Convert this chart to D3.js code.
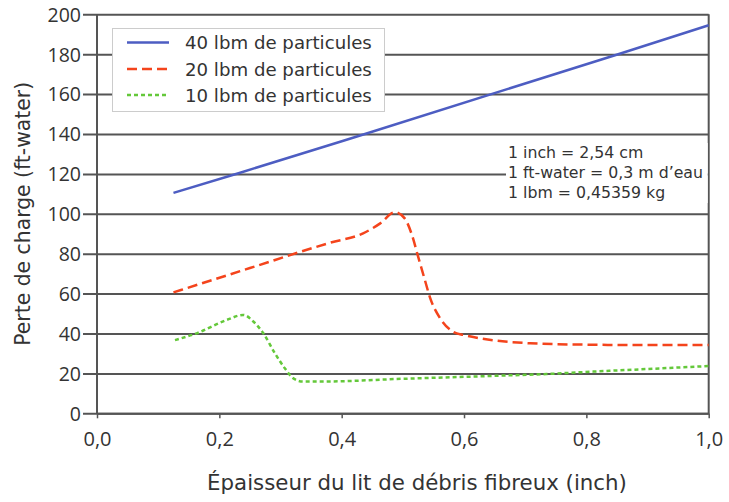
<!DOCTYPE html>
<html><head><meta charset="utf-8">
<script src="https://cdn.jsdelivr.net/npm/d3@7/dist/d3.min.js"></script>
<style>body{margin:0;background:#fff;}svg{display:block;}</style>
</head><body>
<script>
// ---- data ----
const seriesNames = ["40 lbm de particules", "20 lbm de particules", "10 lbm de particules"];
const x40 = [0.125, 0.234, 0.438, 0.852, 1.0];
const y40 = [110.5, 120.6, 140, 180, 194.5];
const x20 = [0.125, 0.25, 0.381, 0.435, 0.463, 0.487, 0.503, 0.514, 0.525, 0.536, 0.544, 0.561, 0.582, 0.6, 0.626, 0.708, 0.8, 0.9, 1.0];
const y20 = [60.6, 72.8, 85.5, 90.2, 95.2, 100.8, 97.7, 90.2, 78.5, 66.8, 58.4, 47.6, 40.9, 39.2, 37.6, 35.1, 34.4, 34.2, 34.2];
const x10 = [0.1275, 0.163, 0.212, 0.239, 0.256, 0.272, 0.291, 0.307, 0.321, 0.337, 0.365, 0.5, 0.642, 0.735, 0.811, 0.9, 1.0];
const y10 = [36.7, 40.1, 46.8, 49.3, 45.9, 40.1, 30, 22.6, 17.5, 15.9, 15.9, 17.3, 18.7, 19.7, 20.9, 22.2, 23.7];
const xTicks = [0, 0.2, 0.4, 0.6, 0.8, 1.0];
const xTickLabels = ["0,0", "0,2", "0,4", "0,6", "0,8", "1,0"];
const yTicks = [0, 20, 40, 60, 80, 100, 120, 140, 160, 180, 200];
const notes = ["1 inch = 2,54 cm", "1 ft-water = 0,3 m d\u2019eau", "1 lbm = 0,45359 kg"];
const xTitle = "\u00C9paisseur du lit de d\u00E9bris fibreux (inch)";
const yTitle = "Perte de charge (ft-water)";

// ---- layout ----
const W = 729, H = 502;
const L = 97, R = 708.7, T = 14.3, B = 413.3;
const font = "'DejaVu Sans', sans-serif";
const tickFont = "'Open Sans', sans-serif";
const colors = ["#4d5dc2", "#f4441c", "#64c83a"];
const dashes = [null, "10,5", "4,3"];

const svg = d3.select("body").append("svg").attr("width", W).attr("height", H);
const x = d3.scaleLinear().domain([0, 1]).range([L, R]);
const y = d3.scaleLinear().domain([0, 200]).range([B, T]);

function fit(sel, target) {
  const w = sel.node().getComputedTextLength();
  const fs = parseFloat(sel.attr("font-size"));
  sel.attr("font-size", (fs * target / w).toFixed(2));
}

// gridlines with y ticks
const yAxis = d3.axisLeft(y).tickValues(yTicks).tickSize(-(R - L)).tickSizeOuter(0).tickPadding(0).tickFormat(d => d);
const gy = svg.append("g").attr("transform", `translate(${L},0)`).call(yAxis);
gy.select(".domain").remove();
gy.selectAll(".tick line").attr("x1", -14).attr("stroke", "#555").attr("stroke-width", 2);
gy.selectAll(".tick text").attr("x", -16).attr("font-family", tickFont).attr("font-size", 19.5).attr("fill", "#333").attr("dy", "0.35em");

// x axis
const xAxis = d3.axisBottom(x).tickValues(xTicks).tickSize(5).tickSizeOuter(0).tickPadding(14).tickFormat((d, i) => xTickLabels[i]);
const gx = svg.append("g").attr("transform", `translate(0,${B})`).call(xAxis);
gx.select(".domain").attr("stroke", "#555").attr("stroke-width", 2);
gx.selectAll(".tick line").attr("stroke", "#555").attr("stroke-width", 1.5);
gx.selectAll(".tick text").attr("font-family", tickFont).attr("font-size", 20).attr("fill", "#333");

// left and right frame
svg.append("line").attr("x1", L).attr("x2", L).attr("y1", T).attr("y2", B).attr("stroke", "#555").attr("stroke-width", 2);
svg.append("line").attr("x1", R).attr("x2", R).attr("y1", T).attr("y2", B).attr("stroke", "#555").attr("stroke-width", 2);

// note box (hides gridline)
svg.append("rect").attr("x", 506).attr("y", 143).attr("width", R - 1 - 506).attr("height", 60).attr("fill", "#fff");
const nt = svg.append("g").selectAll("text").data(notes).join("text")
  .attr("x", 508).attr("y", (d, i) => 157.5 + i * 20)
  .attr("font-family", font).attr("font-size", 15).attr("fill", "#333").text(d => d);
fit(d3.select(nt.nodes()[1]), 195);
nt.attr("font-size", d3.select(nt.nodes()[1]).attr("font-size"));

// lines
const data = [[x40, y40], [x20, y20], [x10, y10]];
const line = d3.line().x(d => x(d[0])).y(d => y(d[1])).curve(d3.curveMonotoneX);
data.forEach((s, i) => {
  const pts = s[0].map((v, j) => [v, s[1][j]]);
  svg.append("path").datum(pts).attr("d", line).attr("fill", "none")
    .attr("stroke", colors[i]).attr("stroke-width", 2.5)
    .attr("stroke-dasharray", dashes[i]);
});

// legend
const lg = svg.append("g");
lg.append("rect").attr("x", 112.5).attr("y", 28.5).attr("width", 272).attr("height", 83)
  .attr("fill", "#fff").attr("stroke", "#ccc").attr("stroke-width", 1);
const ly = [42.5, 69, 95];
const lt = [];
seriesNames.forEach((n, i) => {
  lg.append("line").attr("x1", 127).attr("x2", 169).attr("y1", ly[i]).attr("y2", ly[i])
    .attr("stroke", colors[i]).attr("stroke-width", 2.5).attr("stroke-dasharray", dashes[i]);
  lt.push(lg.append("text").attr("x", 185).attr("y", ly[i]).attr("dy", "0.36em")
    .attr("font-family", font).attr("font-size", 17).attr("fill", "#333").text(n));
});
lt.forEach(t => fit(t, 187));

// titles
const xt = svg.append("text").attr("x", 417).attr("y", 490).attr("text-anchor", "middle")
  .attr("font-family", font).attr("font-size", 20).attr("fill", "#333").text(xTitle);
fit(xt, 420);
const yt = svg.append("text").attr("transform", `translate(30,${(T + B) / 2}) rotate(-90)`).attr("text-anchor", "middle")
  .attr("font-family", font).attr("font-size", 20).attr("fill", "#333").text(yTitle);
fit(yt, 264);
</script>
</body></html>
